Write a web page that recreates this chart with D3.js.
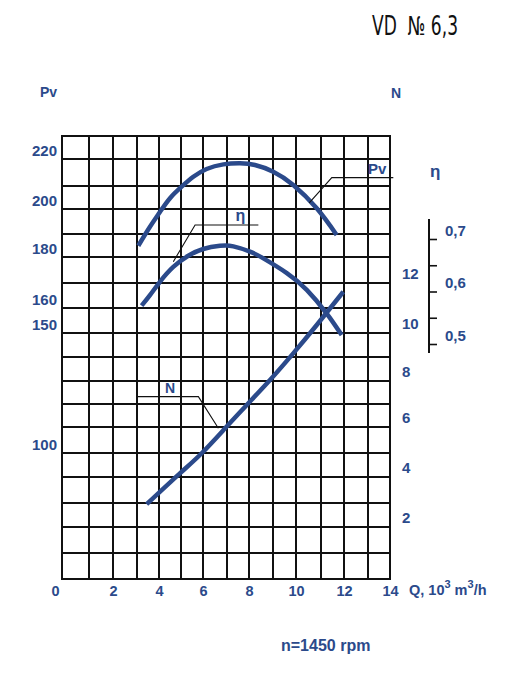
<!DOCTYPE html>
<html>
<head>
<meta charset="utf-8">
<script src="https://cdn.jsdelivr.net/npm/d3@7"></script>
<style>
  html, body { margin: 0; padding: 0; background: #fff; }
  svg { display: block; }
</style>
</head>
<body>
<script>
// ---- data ----
const qTicks = [0, 2, 4, 6, 8, 10, 12, 14];
const pvTicks = [100, 150, 160, 180, 200, 220];
const nTicks = [2, 4, 6, 8, 10, 12];
const etaTicks = [0.5, 0.55, 0.6, 0.65, 0.7];
const etaLabelTicks = [0.5, 0.6, 0.7];

const pvQ = [3.06, 3.59, 4.05, 4.50, 5.03, 5.56, 6.15, 6.85, 7.59, 8.25, 9.01, 9.88, 10.83, 11.68];
const pvVal = [184.9, 192.9, 198.9, 204.7, 209.7, 213.4, 216.3, 218.0, 218.4, 217.8, 215.3, 210.4, 200.3, 189.6];

const etaQ = [3.21, 3.59, 4.05, 4.65, 5.33, 6.01, 6.71, 7.29, 8.04, 8.60, 9.60, 10.43, 11.25, 11.90];
const etaVal = [0.573, 0.593, 0.619, 0.647, 0.668, 0.681, 0.687, 0.686, 0.676, 0.663, 0.635, 0.603, 0.558, 0.517];

const nQ = [3.44, 4.95, 5.94, 6.92, 7.90, 8.875, 9.88, 10.83, 11.97];
const nVal = [2.95, 4.15, 4.99, 5.95, 6.96, 8.04, 9.15, 10.32, 11.65];

// leader lines (Q, Pv) / (Q, N)
const pvLeaderQ = [10.53, 11.47, 14.15];
const pvLeaderPv = [202.7, 213.1, 213.1];
const etaLeaderQ = [4.65, 5.64, 8.39];
const etaLeaderPv = [178.2, 193.6, 193.6];
const nLeaderQ = [2.99, 5.79, 6.64];
const nLeaderN = [7.32, 7.32, 5.95];

const titleText = "VD  № 6,3";
const speedText = "n=1450 rpm";

// ---- layout ----
const W = 510, H = 688;
const BLUE = "#2b4a8b";
const FONT = "'Liberation Sans', Arial, Helvetica, sans-serif";

// grid calibration of the (slightly uneven) printed grid
const gridXpx = [62, 89, 113, 137, 159, 181, 203, 227, 249, 273, 296, 321, 344, 368, 390];
const gridYpx = [136, 159, 186, 209, 234, 257, 283, 308, 333, 357, 381, 404, 427, 453, 477, 503, 527, 553, 579];

const x = d3.scaleLinear().domain(d3.range(0, 15)).range(gridXpx);
const yPv = d3.scaleLinear().domain(d3.range(230, 49, -10)).range(gridYpx);
const yN = d3.scaleLinear().domain(d3.range(18, -1, -1)).range(gridYpx);
const yEta = d3.scaleLinear().domain([0.5, 0.7]).range([344, 239]);

const svg = d3.select("body").append("svg")
  .attr("width", W).attr("height", H)
  .attr("viewBox", `0 0 ${W} ${H}`);

svg.append("rect").attr("width", W).attr("height", H).attr("fill", "#fff");

// ---- grid ----
const grid = svg.append("g").attr("stroke", "#111").attr("stroke-width", 2);
grid.selectAll("line.v").data(d3.range(0, 15)).join("line")
  .attr("class", "v")
  .attr("x1", d => x(d)).attr("x2", d => x(d))
  .attr("y1", yPv(230) - 1).attr("y2", yPv(50) + 1);
grid.selectAll("line.h").data(d3.range(50, 231, 10)).join("line")
  .attr("class", "h")
  .attr("x1", x(0) - 1).attr("x2", x(14) + 1)
  .attr("y1", d => yPv(d)).attr("y2", d => yPv(d));

// ---- axes labels ----
function styleAxis(g) {
  g.select(".domain").remove();
  g.selectAll(".tick line").remove();
  g.selectAll("text")
    .attr("fill", BLUE)
    .attr("font-family", FONT)
    .attr("font-weight", "bold");
}

// X axis
const gx = svg.append("g")
  .attr("transform", `translate(0,${yPv(50)})`)
  .call(d3.axisBottom(x).tickValues(qTicks).tickSize(0).tickPadding(0).tickFormat(d3.format("d")));
styleAxis(gx);
gx.selectAll("text")
  .attr("font-size", 14.5)
  .attr("y", 17).attr("dy", 0)
  .attr("dx", d => d === 0 ? -7 : 0);

// Pv axis (left)
const gpv = svg.append("g")
  .attr("transform", `translate(57,0)`)
  .call(d3.axisLeft(yPv).tickValues(pvTicks).tickSize(0).tickPadding(0));
styleAxis(gpv);
gpv.selectAll("text")
  .attr("font-size", 15)
  .attr("x", 0).attr("dy", -4)
  .attr("text-anchor", "end")
  .attr("dominant-baseline", "alphabetic");

// N axis (right)
const gn = svg.append("g")
  .attr("transform", `translate(402,0)`)
  .call(d3.axisRight(yN).tickValues(nTicks).tickSize(0).tickPadding(0));
styleAxis(gn);
gn.selectAll("text")
  .attr("font-size", 15)
  .attr("x", 0).attr("dy", -5)
  .attr("text-anchor", "start")
  .attr("dominant-baseline", "alphabetic");

// eta axis
const etaX = 429;
const ge = svg.append("g").attr("transform", `translate(${etaX},0)`)
  .call(d3.axisRight(yEta).tickValues(etaTicks).tickSize(8).tickPadding(8)
    .tickFormat(d => etaLabelTicks.includes(d) ? d3.format(".1f")(d).replace(".", ",") : ""));
ge.select(".domain").remove();
ge.selectAll(".tick line").attr("stroke", "#111").attr("stroke-width", 1.6);
ge.selectAll("text")
  .attr("fill", BLUE).attr("font-family", FONT).attr("font-weight", "bold")
  .attr("font-size", 15).attr("dy", -4)
  .attr("dominant-baseline", "alphabetic");
ge.append("line")
  .attr("x1", 0).attr("x2", 0)
  .attr("y1", yEta(0.738)).attr("y2", yEta(0.483))
  .attr("stroke", "#111").attr("stroke-width", 2);

// ---- curves ----
const line = d3.line().curve(d3.curveNatural);
function drawCurve(qs, vs, yScale) {
  svg.append("path")
    .attr("d", line(qs.map((q, i) => [x(q), yScale(vs[i])])))
    .attr("fill", "none")
    .attr("stroke", BLUE)
    .attr("stroke-width", 4.5);
}
drawCurve(pvQ, pvVal, yPv);
drawCurve(etaQ, etaVal, yEta);
drawCurve(nQ, nVal, yN);

// ---- leader lines ----
const straight = d3.line();
function drawLeader(qs, vs, yScale) {
  svg.append("path")
    .attr("d", straight(qs.map((q, i) => [x(q), yScale(vs[i])])))
    .attr("fill", "none")
    .attr("stroke", "#111")
    .attr("stroke-width", 1.1);
}
drawLeader(pvLeaderQ, pvLeaderPv, yPv);
drawLeader(etaLeaderQ, etaLeaderPv, yPv);
drawLeader(nLeaderQ, nLeaderN, yN);

// ---- texts ----
function label(txt, px, py, size, anchor) {
  return svg.append("text")
    .attr("x", px).attr("y", py)
    .attr("fill", BLUE)
    .attr("font-family", FONT)
    .attr("font-weight", "bold")
    .attr("font-size", size)
    .attr("text-anchor", anchor || "start")
    .text(txt);
}
// curve labels
label("Pv", x(13.0), yPv(214.4), 15);
label("η", x(7.61), yPv(195.2), 16, "middle");
label("N", x(4.5), yN(7.48), 14, "middle");

// axis titles
label("Pv", 40, 97, 14);
label("N", 391, 98, 14);
label("η", 430, 177, 17);

// Q axis title with superscripts
const qt = svg.append("text")
  .attr("x", 409).attr("y", 595)
  .attr("fill", BLUE).attr("font-family", FONT)
  .attr("font-weight", "bold").attr("font-size", 14.5);
qt.append("tspan").text("Q, 10");
qt.append("tspan").attr("dy", -7).attr("font-size", 11).text("3");
qt.append("tspan").attr("dy", 7).text(" m");
qt.append("tspan").attr("dy", -7).attr("font-size", 11).text("3");
qt.append("tspan").attr("dy", 7).text("/h");

// speed note
label(speedText, 281, 651, 16);

// title
svg.append("text")
  .attr("x", 372).attr("y", 35)
  .attr("fill", "#111")
  .attr("font-family", "'Liberation Sans Narrow', 'DejaVu Sans Condensed', 'Roboto Condensed', sans-serif")
  .attr("font-size", 26)
  .attr("textLength", 86)
  .attr("lengthAdjust", "spacingAndGlyphs")
  .style("white-space", "pre")
  .text(titleText);
</script>
</body>
</html>
